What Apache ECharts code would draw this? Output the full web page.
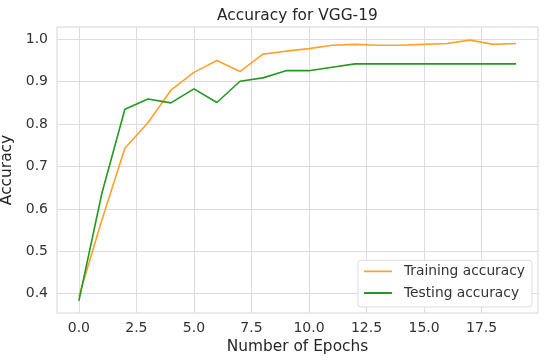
<!DOCTYPE html>
<html>
<head>
<meta charset="utf-8">
<script src="https://cdn.jsdelivr.net/npm/echarts@6/dist/echarts.min.js"></script>
<style>html,body{margin:0;padding:0;background:#fff}#c{width:550px;height:361px}</style>
</head>
<body>
<div id="c"></div>
<script>
const epochs = [0,1,2,3,4,5,6,7,8,9,10,11,12,13,14,15,16,17,18,19];
const trainAcc = [0.393,0.574,0.743,0.803,0.880,0.922,0.950,0.924,0.965,0.972,0.978,0.986,0.988,0.986,0.986,0.988,0.990,0.998,0.988,0.990];
const testAcc  = [0.383,0.637,0.835,0.859,0.850,0.883,0.851,0.901,0.909,0.926,0.926,0.934,0.942,0.942,0.942,0.942,0.942,0.942,0.942,0.942];
const xTicks = [0,2.5,5,7.5,10,12.5,15,17.5];
const yTicks = [0.4,0.5,0.6,0.7,0.8,0.9,1.0];

const font = 'DejaVu Sans';
const gridColor = '#dcdcdc';
const lineIcon = 'path://M0,0h0.01v0.01h-0.01z M0,6.1h28v1.8h-28z M34.99,13.99h0.01v0.01h-0.01z';
const chart = echarts.init(document.getElementById('c'));
chart.setOption({
  animation: false,
  textStyle: {fontFamily: font},
  title: {text: 'Accuracy for VGG-19', left: 212, top: 3,
    textStyle: {fontFamily: font, fontSize: 15.4, fontWeight: 'normal', color: '#262626'}},
  grid: {left: 57, right: 12, top: 27, bottom: 48, outerBoundsMode: 'none', containLabel: false,
    show: true, borderColor: '#d6d6d6', borderWidth: 1},
  legend: {
    z: 50, zlevel: 1,
    orient: 'vertical', right: 18, bottom: 54,
    data: [{name: 'Training accuracy', icon: lineIcon}, {name: 'Testing accuracy', icon: lineIcon}],
    itemWidth: 35, itemHeight: 14, itemGap: 7.7,
    padding: [4, 7, 7, 6],
    borderColor: '#dcdcdc', borderWidth: 1, borderRadius: 3, backgroundColor: '#ffffff',
    textStyle: {fontFamily: font, fontSize: 13.8, color: '#333'}
  },
  xAxis: {
    type: 'value', min: -0.95, max: 19.95,
    name: 'Number of Epochs', nameLocation: 'middle', nameGap: 25,
    nameTextStyle: {fontFamily: font, fontSize: 15.4, color: '#262626'},
    axisLine: {show: false}, axisTick: {show: false, customValues: xTicks},
    axisLabel: {customValues: xTicks, formatter: v => v.toFixed(1), margin: 8,
      fontFamily: font, fontSize: 14, color: '#333'},
    splitLine: {show: false}
  },
  yAxis: {
    type: 'value', min: 0.3545, max: 1.029,
    name: 'Accuracy', nameLocation: 'middle', nameGap: 37,
    nameTextStyle: {fontFamily: font, fontSize: 15.4, color: '#262626'},
    axisLine: {show: false}, axisTick: {show: false, customValues: yTicks},
    axisLabel: {customValues: yTicks, formatter: v => v.toFixed(1), margin: 9,
      fontFamily: font, fontSize: 14, color: '#333'},
    splitLine: {show: true, lineStyle: {color: gridColor, width: 1}}
  },
  series: [
    {name: 'xgrid', type: 'line', data: [], silent: true, z: 0,
     markLine: {silent: true, z: 0, symbol: ['none','none'], label: {show: false},
       lineStyle: {color: gridColor, width: 1, type: 'solid'},
       emphasis: {disabled: true},
       data: xTicks.map(v => ({xAxis: v}))}},
    {name: 'Training accuracy', type: 'line', symbol: 'none', z: 3,
     data: epochs.map((e,i) => [e, trainAcc[i]]),
     lineStyle: {color: '#ffa12a', width: 1.6}, itemStyle: {color: '#ffa12a'}},
    {name: 'Testing accuracy', type: 'line', symbol: 'none', z: 3,
     data: epochs.map((e,i) => [e, testAcc[i]]),
     lineStyle: {color: '#229922', width: 1.6}, itemStyle: {color: '#229922'}}
  ]
});
</script>
</body>
</html>
